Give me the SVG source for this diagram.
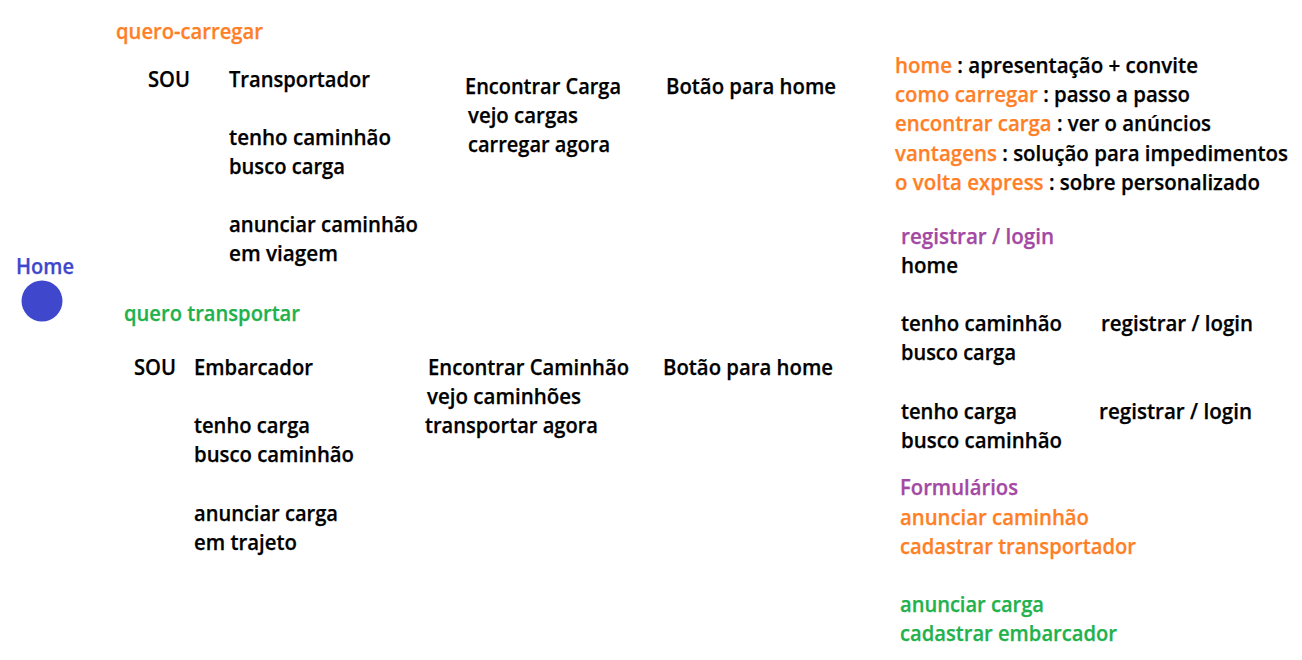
<svg xmlns="http://www.w3.org/2000/svg" width="1302" height="660" viewBox="0 0 1302 660">
<style>
text{font-family:"Open Sans","Noto Sans","Liberation Sans",sans-serif;font-weight:600;font-size:21px;fill:#000;stroke:#000;stroke-width:0.25px}
.o{fill:#ff7f27;stroke:#ff7f27}
.g{fill:#22b14c;stroke:#22b14c}
.p{fill:#a349a4;stroke:#a349a4}
.b{fill:#3f48cc;stroke:#3f48cc}
</style>
<rect width="1302" height="660" fill="#fff"/>
<g id="connectors"/>
<g id="home">
<text class="b" x="16" y="274" textLength="58" lengthAdjust="spacingAndGlyphs">Home</text>
<circle cx="42" cy="301" r="20.5" fill="#3f48cc"/>
</g>
<g id="quero-carregar">
<text class="o" x="116" y="39" textLength="147" lengthAdjust="spacingAndGlyphs">quero-carregar</text>
<text x="148" y="87" textLength="42" lengthAdjust="spacingAndGlyphs">SOU</text>
<text x="229" y="87" textLength="141" lengthAdjust="spacingAndGlyphs">Transportador</text>
<text x="229" y="145" textLength="162" lengthAdjust="spacingAndGlyphs">tenho caminhão</text>
<text x="229" y="174" textLength="116" lengthAdjust="spacingAndGlyphs">busco carga</text>
<text x="229" y="232" textLength="189" lengthAdjust="spacingAndGlyphs">anunciar caminhão</text>
<text x="229" y="261" textLength="109" lengthAdjust="spacingAndGlyphs">em viagem</text>
</g>
<g id="encontrar-carga">
<text x="465" y="94" textLength="156" lengthAdjust="spacingAndGlyphs">Encontrar Carga</text>
<text x="468" y="123" textLength="110" lengthAdjust="spacingAndGlyphs">vejo cargas</text>
<text x="468" y="152" textLength="142" lengthAdjust="spacingAndGlyphs">carregar agora</text>
</g>
<g id="botao-home-1">
<text x="666" y="94" textLength="170" lengthAdjust="spacingAndGlyphs">Botão para home</text>
</g>
<g id="quero-transportar">
<text class="g" x="124" y="321" textLength="176" lengthAdjust="spacingAndGlyphs">quero transportar</text>
<text x="134" y="375" textLength="42" lengthAdjust="spacingAndGlyphs">SOU</text>
<text x="194" y="375" textLength="119" lengthAdjust="spacingAndGlyphs">Embarcador</text>
<text x="194" y="433" textLength="116" lengthAdjust="spacingAndGlyphs">tenho carga</text>
<text x="194" y="462" textLength="160" lengthAdjust="spacingAndGlyphs">busco caminhão</text>
<text x="194" y="521" textLength="144" lengthAdjust="spacingAndGlyphs">anunciar carga</text>
<text x="194" y="550" textLength="103" lengthAdjust="spacingAndGlyphs">em trajeto</text>
</g>
<g id="encontrar-caminhao">
<text x="428" y="375" textLength="201" lengthAdjust="spacingAndGlyphs">Encontrar Caminhão</text>
<text x="427" y="404" textLength="154" lengthAdjust="spacingAndGlyphs">vejo caminhões</text>
<text x="425" y="433" textLength="173" lengthAdjust="spacingAndGlyphs">transportar agora</text>
</g>
<g id="botao-home-2">
<text x="663" y="375" textLength="170" lengthAdjust="spacingAndGlyphs">Botão para home</text>
</g>
<g id="paginas">
<text x="895" y="73" textLength="303" lengthAdjust="spacingAndGlyphs"><tspan class="o">home</tspan> : apresentação + convite</text>
<text x="895" y="102" textLength="295" lengthAdjust="spacingAndGlyphs"><tspan class="o">como carregar</tspan> : passo a passo</text>
<text x="895" y="131" textLength="316" lengthAdjust="spacingAndGlyphs"><tspan class="o">encontrar carga</tspan> : ver o anúncios</text>
<text x="895" y="161" textLength="393" lengthAdjust="spacingAndGlyphs"><tspan class="o">vantagens</tspan> : solução para impedimentos</text>
<text x="895" y="190" textLength="365" lengthAdjust="spacingAndGlyphs"><tspan class="o">o volta express</tspan> : sobre personalizado</text>
</g>
<g id="registrar-login">
<text class="p" x="901" y="244" textLength="153" lengthAdjust="spacingAndGlyphs">registrar / login</text>
<text x="901" y="273" textLength="57" lengthAdjust="spacingAndGlyphs">home</text>
<text x="901" y="331" textLength="161" lengthAdjust="spacingAndGlyphs">tenho caminhão</text>
<text x="1101" y="331" textLength="152" lengthAdjust="spacingAndGlyphs">registrar / login</text>
<text x="901" y="360" textLength="115" lengthAdjust="spacingAndGlyphs">busco carga</text>
<text x="901" y="419" textLength="116" lengthAdjust="spacingAndGlyphs">tenho carga</text>
<text x="1099" y="419" textLength="153" lengthAdjust="spacingAndGlyphs">registrar / login</text>
<text x="901" y="448" textLength="161" lengthAdjust="spacingAndGlyphs">busco caminhão</text>
</g>
<g id="formularios">
<text class="p" x="900" y="495" textLength="118" lengthAdjust="spacingAndGlyphs">Formulários</text>
<text class="o" x="900" y="525" textLength="189" lengthAdjust="spacingAndGlyphs">anunciar caminhão</text>
<text class="o" x="900" y="554" textLength="236" lengthAdjust="spacingAndGlyphs">cadastrar transportador</text>
<text class="g" x="900" y="612" textLength="144" lengthAdjust="spacingAndGlyphs">anunciar carga</text>
<text class="g" x="900" y="641" textLength="217" lengthAdjust="spacingAndGlyphs">cadastrar embarcador</text>
</g>
</svg>
